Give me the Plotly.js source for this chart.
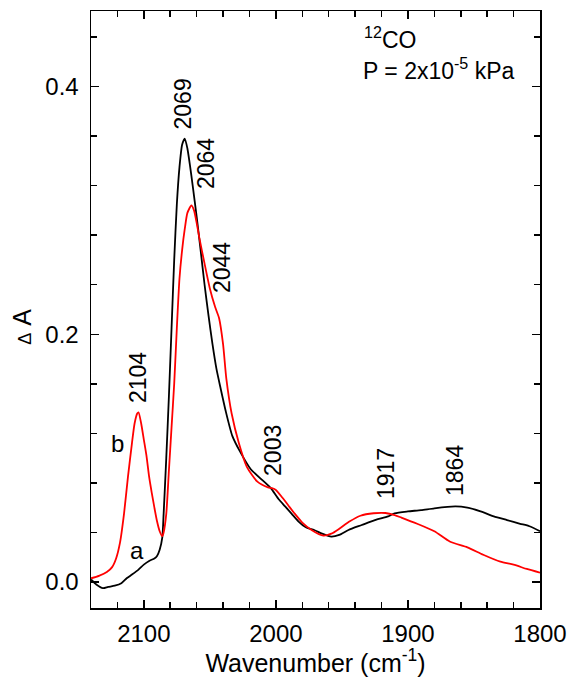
<!DOCTYPE html>
<html>
<head>
<meta charset="utf-8">
<script src="https://cdn.plot.ly/plotly-3.0.1.min.js"></script>
<style>
  html, body { margin: 0; padding: 0; background: #fff; }
  #plot { width: 569px; height: 677px; }
</style>
</head>
<body>
<div id="plot"></div>
<script>
// Spectrum a (black): wavenumber (cm-1) and absorbance change
const waveA = [2140, 2136, 2131, 2127, 2122, 2117, 2113, 2109, 2104, 2100, 2096, 2092, 2090, 2088,
  2086, 2085, 2083, 2081, 2079, 2077, 2075, 2073, 2071, 2069, 2067, 2065, 2063, 2060, 2057, 2054,
  2051, 2048, 2045, 2042, 2038, 2033, 2027, 2019, 2010, 2004, 1998, 1993, 1988, 1983, 1977, 1971,
  1965, 1958, 1952, 1945, 1935, 1925, 1915, 1910, 1900, 1890, 1880, 1864, 1855, 1845, 1835, 1825,
  1815, 1808, 1800];
const absA = [0.002, -0.002, -0.005, -0.004, -0.003, -0.001, 0.003, 0.006, 0.010, 0.014, 0.017, 0.019, 0.021, 0.026,
  0.036, 0.055, 0.100, 0.150, 0.205, 0.260, 0.305, 0.335, 0.353, 0.358, 0.350, 0.336, 0.320, 0.295, 0.268, 0.240,
  0.215, 0.192, 0.172, 0.157, 0.138, 0.118, 0.105, 0.091, 0.082, 0.076, 0.067, 0.061, 0.055, 0.049, 0.044, 0.042,
  0.039, 0.0366, 0.038, 0.042, 0.046, 0.050, 0.053, 0.0555, 0.057, 0.058, 0.0595, 0.061, 0.060, 0.057, 0.053, 0.050,
  0.047, 0.045, 0.041];

// Spectrum b (red)
const waveB = [2140, 2134, 2128, 2124, 2121, 2118, 2115, 2112, 2109, 2107, 2105, 2104, 2102, 2100, 2098,
  2096, 2094, 2092, 2090, 2088, 2086, 2085, 2083, 2081, 2079, 2077, 2075, 2073, 2071, 2069, 2067,
  2064, 2062, 2060, 2058, 2054, 2050, 2046, 2043, 2040, 2037.5, 2033.5, 2028, 2022, 2014, 2006, 2003,
  2000, 1995, 1990, 1986, 1980, 1973, 1964, 1958, 1952, 1944, 1936, 1926, 1917, 1910, 1905, 1893,
  1880, 1868, 1855, 1843, 1830, 1820, 1810, 1800];
const absB = [0.003, 0.005, 0.008, 0.012, 0.019, 0.032, 0.055, 0.085, 0.112, 0.128, 0.136, 0.137, 0.128, 0.115, 0.102,
  0.085, 0.072, 0.060, 0.049, 0.041, 0.037, 0.040, 0.055, 0.090, 0.125, 0.160, 0.205, 0.245, 0.268, 0.285, 0.298,
  0.304, 0.300, 0.290, 0.278, 0.257, 0.237, 0.222, 0.213, 0.192, 0.164, 0.136, 0.112, 0.093, 0.081, 0.0764, 0.0757,
  0.0743, 0.068, 0.061, 0.0555, 0.048, 0.042, 0.0374, 0.039, 0.043, 0.049, 0.0535, 0.0555, 0.0557, 0.054, 0.052, 0.047,
  0.041, 0.0325, 0.028, 0.022, 0.0164, 0.014, 0.0105, 0.0075];

// Band assignments: label text, and where each label sits (wavenumber, ΔA)
const peakLabels = ['2069', '2064', '2044', '2104', '2003', '1917', '1864'];
const peakLabelX = [2070.0, 2052.9, 2040.8, 2104.4, 2002.2, 1916.6, 1864.4];
const peakLabelY = [0.3859, 0.3374, 0.2535, 0.1647, 0.1066, 0.0872, 0.0904];

const fontFamily = 'Arial, "Liberation Sans", Helvetica, sans-serif';

const traces = [
  { x: waveA, y: absA, mode: 'lines', name: 'a',
    line: { color: '#000000', width: 1.8, shape: 'spline', smoothing: 0.6 } },
  { x: waveB, y: absB, mode: 'lines', name: 'b',
    line: { color: '#ff0000', width: 1.8, shape: 'spline', smoothing: 0.6 } }
];

const annotations = peakLabels.map((t, i) => ({
  x: peakLabelX[i], y: peakLabelY[i], xref: 'x', yref: 'y', text: t,
  textangle: -90, showarrow: false, xanchor: 'center', yanchor: 'middle',
  font: { family: fontFamily, size: 23, color: '#000' }
}));

annotations.push(
  { x: 2119.6, y: 0.1122, xref: 'x', yref: 'y', text: 'b', showarrow: false,
    font: { family: fontFamily, size: 24, color: '#000' } },
  { x: 2105.2, y: 0.0258, xref: 'x', yref: 'y', text: 'a', showarrow: false,
    font: { family: fontFamily, size: 24, color: '#000' } },
  { x: 0.603, y: 0.955, xref: 'paper', yref: 'paper', text: '<sup>12</sup>CO',
    showarrow: false, xanchor: 'left', yanchor: 'middle',
    font: { family: fontFamily, size: 23, color: '#000' } },
  { x: 0.601, y: 0.903, xref: 'paper', yref: 'paper', text: 'P = 2x10<sup>-5</sup> kPa',
    showarrow: false, xanchor: 'left', yanchor: 'middle',
    font: { family: fontFamily, size: 23, color: '#000' } },
  // y-axis title, drawn as a rotated annotation
  { x: -0.154, y: 0.471, xref: 'paper', yref: 'paper',
    text: '<span style="font-size:18px">Δ</span> A', textangle: -90,
    showarrow: false, xanchor: 'center', yanchor: 'middle',
    font: { family: fontFamily, size: 25, color: '#000' } }
);

const axisCommon = {
  showline: true, linecolor: '#000', linewidth: 1.5, mirror: 'ticks',
  ticks: 'inside', ticklen: 8, tickwidth: 1.5, tickcolor: '#000',
  showgrid: false, zeroline: false,
  tickfont: { family: fontFamily, size: 24, color: '#000' }
};

const layout = {
  width: 569, height: 677,
  margin: { l: 91, r: 29, t: 11, b: 69 },
  paper_bgcolor: '#fff', plot_bgcolor: '#fff',
  showlegend: false,
  xaxis: Object.assign({}, axisCommon, {
    range: [2140, 1800], tick0: 1800, dtick: 100, ticklabelstandoff: 4,
    minor: { dtick: 20, ticks: 'inside', ticklen: 6, tickwidth: 1.5, tickcolor: '#000' },
    title: { text: 'Wavenumber (cm<sup>-1</sup>)', standoff: 8,
      font: { family: fontFamily, size: 25, color: '#000' } }
  }),
  yaxis: Object.assign({}, axisCommon, {
    range: [-0.021, 0.461], tick0: 0, dtick: 0.2, tickformat: '.1f', ticklabelstandoff: 6,
    minor: { dtick: 0.04, ticks: 'inside', ticklen: 6, tickwidth: 1.5, tickcolor: '#000' }
  }),
  annotations: annotations
};

Plotly.newPlot('plot', traces, layout, { staticPlot: true, displayModeBar: false });
</script>
</body>
</html>
